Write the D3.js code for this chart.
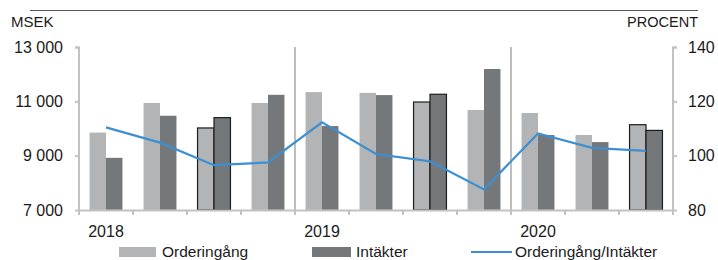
<!DOCTYPE html>
<html>
<head>
<meta charset="utf-8">
<script src="https://cdn.jsdelivr.net/npm/d3@7"></script>
<style>
    body { margin: 0; background: #fff; }
    svg text { font-family: 'Liberation Sans', Arial, sans-serif; fill: #1a1a1a; }
</style>
</head>
<body>
<svg id="chart" width="718" height="260"></svg>
<script>
var quarters = [ '2018 Q1', '2018 Q2', '2018 Q3', '2018 Q4',
                 '2019 Q1', '2019 Q2', '2019 Q3', '2019 Q4',
                 '2020 Q1', '2020 Q2', '2020 Q3' ];
var orderingang = [ 9850, 10940, 10020, 10940, 11340, 11310, 10975, 10680, 10570, 9760, 10140 ];
var intakter = [ 8920, 10470, 10400, 11240, 10090, 11230, 11260, 12190, 9760, 9500, 9930 ];
var kvot = [ 110.4, 104.8, 96.5, 97.5, 112.3, 100.6, 97.9, 87.6, 108.2, 102.9, 101.8 ];
var years = [ '2018', '2019', '2020' ];
var leftTicks = [ 7000, 9000, 11000, 13000 ];
var rightTicks = [ 80, 100, 120, 140 ];
var markedQuarters = [ '2018 Q3', '2019 Q3', '2020 Q3' ];

var Chart = Chart || {};
Chart.colors = {
    order: '#b2b4b5',
    intakt: '#75787b',
    line: '#3b8fd2',
    axis: '#c2c2c2',
    divider: '#a9a9a9'
};

Chart.draw = function () {
    var svg = d3.select( '#chart' ),
        _margin = { top: 47, left: 79, right: 45, bottom: 50 },
        _width = 718 - _margin.left - _margin.right,
        _height = 260 - _margin.top - _margin.bottom,
        _fmt = function ( d ) { return d3.format( ',' )( d ).replace( ',', ' ' ); };

    var x = d3.scaleBand().domain( quarters ).range( [ 0, _width ] ),
        x1 = d3.scaleBand().domain( [ 'order', 'intakt' ] ).range( [ 0, x.bandwidth() ] ).paddingOuter( 0.64 ),
        y = d3.scaleLinear().domain( [ 7000, 13000 ] ).range( [ _height, 0 ] ),
        y2 = d3.scaleLinear().domain( [ 80, 140 ] ).range( [ _height, 0 ] );

    // top rule
    svg.append( 'line' )
        .attr( 'x1', 30 ).attr( 'x2', 698 )
        .attr( 'y1', 10.5 ).attr( 'y2', 10.5 )
        .attr( 'stroke', '#555' ).attr( 'stroke-width', 1 );

    svg.append( 'text' ).attr( 'x', 11 ).attr( 'y', 27 )
        .style( 'font-size', '15px' ).text( 'MSEK' );
    svg.append( 'text' ).attr( 'x', 698 ).attr( 'y', 27 )
        .attr( 'text-anchor', 'end' )
        .style( 'font-size', '14.5px' ).text( 'PROCENT' );

    var g = svg.append( 'g' )
        .attr( 'transform', 'translate(' + _margin.left + ',' + _margin.top + ')' );

    // year dividers
    g.selectAll( '.divider' )
        .data( years.slice( 1 ) )
        .enter().append( 'line' )
        .attr( 'class', 'divider' )
        .attr( 'x1', function ( d ) { return x( d + ' Q1' ); } )
        .attr( 'x2', function ( d ) { return x( d + ' Q1' ); } )
        .attr( 'y1', 0 ).attr( 'y2', _height )
        .attr( 'stroke', Chart.colors.divider ).attr( 'stroke-width', 1.5 );

    // bars
    var groups = g.selectAll( '.grp' )
        .data( quarters )
        .enter().append( 'g' )
        .attr( 'class', 'grp' )
        .attr( 'transform', function ( d ) { return 'translate(' + x( d ) + ',0)'; } );

    groups.each( function ( q, i ) {
        var marked = markedQuarters.indexOf( q ) >= 0;
        var vals = [ { key: 'order', v: orderingang[ i ] }, { key: 'intakt', v: intakter[ i ] } ];
        d3.select( this ).selectAll( 'rect' )
            .data( vals )
            .enter().append( 'rect' )
            .attr( 'x', function ( d ) { return x1( d.key ); } )
            .attr( 'width', x1.bandwidth() )
            .attr( 'y', function ( d ) { return y( d.v ); } )
            .attr( 'height', function ( d ) { return _height - y( d.v ); } )
            .attr( 'fill', function ( d ) { return Chart.colors[ d.key ]; } )
            .attr( 'stroke', marked ? '#1c1c1c' : 'none' )
            .attr( 'stroke-width', marked ? 1.2 : 0 );
    } );

    // axes
    var axLeft = g.append( 'g' )
        .call( d3.axisLeft( y ).tickValues( leftTicks ).tickSize( 4 ).tickPadding( 12 ).tickFormat( _fmt ) );
    var axRight = g.append( 'g' )
        .attr( 'transform', 'translate(' + _width + ',0)' )
        .call( d3.axisRight( y2 ).tickValues( rightTicks ).tickSize( 4 ).tickPadding( 11 ) );
    var axBottom = g.append( 'g' )
        .attr( 'transform', 'translate(0,' + _height + ')' )
        .call( d3.axisBottom( x ).tickSize( 0 ).tickFormat( '' ) );

    [ axLeft, axRight, axBottom ].forEach( function ( ax ) {
        ax.select( '.domain' ).attr( 'stroke', Chart.colors.axis ).attr( 'stroke-width', 2 );
        ax.selectAll( '.tick line' ).attr( 'stroke', Chart.colors.axis ).attr( 'stroke-width', 2 );
        ax.selectAll( 'text' ).style( 'font-size', '16px' ).attr( 'fill', '#1a1a1a' );
    } );
    axLeft.select( '.domain' ).attr( 'd', 'M-4,0.5H0V' + _height );
    axRight.select( '.domain' ).attr( 'd', 'M4,0.5H0V' + _height );

    // quarter boundary ticks on x axis
    axBottom.selectAll( '.qtick' )
        .data( quarters.concat( [ null ] ) )
        .enter().append( 'line' )
        .attr( 'class', 'qtick' )
        .attr( 'x1', function ( d ) { return d ? x( d ) : _width; } )
        .attr( 'x2', function ( d ) { return d ? x( d ) : _width; } )
        .attr( 'y1', 0 ).attr( 'y2', 5 )
        .attr( 'stroke', Chart.colors.axis ).attr( 'stroke-width', 2 );

    // year labels
    g.selectAll( '.year' )
        .data( years )
        .enter().append( 'text' )
        .attr( 'class', 'year' )
        .attr( 'x', function ( d ) { return x( d + ' Q1' ) + x.bandwidth() / 2; } )
        .attr( 'y', _height + 27 )
        .attr( 'text-anchor', 'middle' )
        .style( 'font-size', '16px' )
        .text( function ( d ) { return d; } );

    // ratio line
    var line = d3.line()
        .x( function ( d, i ) { return x( quarters[ i ] ) + x.bandwidth() / 2; } )
        .y( function ( d ) { return y2( d ); } );
    g.append( 'path' )
        .datum( kvot )
        .attr( 'd', line )
        .attr( 'fill', 'none' )
        .attr( 'stroke', Chart.colors.line )
        .attr( 'stroke-width', 2.2 );

    // legend
    var lg = svg.append( 'g' ).attr( 'transform', 'translate(0,247)' );
    lg.append( 'rect' ).attr( 'x', 119 ).attr( 'y', 0 ).attr( 'width', 37 ).attr( 'height', 10 )
        .attr( 'fill', Chart.colors.order );
    lg.append( 'text' ).attr( 'x', 162 ).attr( 'y', 9.5 ).style( 'font-size', '15.5px' ).text( 'Orderingång' );
    lg.append( 'rect' ).attr( 'x', 312 ).attr( 'y', 0 ).attr( 'width', 39 ).attr( 'height', 10 )
        .attr( 'fill', Chart.colors.intakt );
    lg.append( 'text' ).attr( 'x', 356 ).attr( 'y', 9.5 ).style( 'font-size', '15.5px' ).text( 'Intäkter' );
    lg.append( 'line' ).attr( 'x1', 471 ).attr( 'x2', 512 ).attr( 'y1', 5 ).attr( 'y2', 5 )
        .attr( 'stroke', Chart.colors.line ).attr( 'stroke-width', 2 );
    lg.append( 'text' ).attr( 'x', 515 ).attr( 'y', 9.5 ).style( 'font-size', '15.5px' ).text( 'Orderingång/Intäkter' );
};

Chart.draw();
</script>
</body>
</html>
